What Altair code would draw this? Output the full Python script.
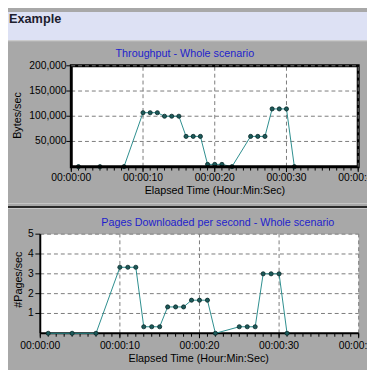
import altair as alt
import pandas as pd

# ---------------- data ----------------
top_t = [1, 4, 7.35, 10, 11, 12, 13, 14, 15, 16, 17, 18, 19, 20, 21, 22.4, 25, 26, 27, 28, 29, 30, 31.1]
top_v = [0, 0, 0, 107000, 107000, 107000, 100000, 100000, 100000, 60000, 60000, 60000,
         4500, 4500, 4500, 0, 60000, 60000, 60000, 114500, 114500, 114500, 0]

bot_t = [1, 4, 7, 10, 11, 12, 13, 14, 15, 16, 17, 18, 19, 20, 21, 22, 25, 26, 27, 28, 29, 30, 31]
bot_v = [0, 0, 0, 3.33, 3.33, 3.33, 0.33, 0.33, 0.33, 1.33, 1.33, 1.33,
         1.67, 1.67, 1.67, 0, 0.33, 0.33, 0.33, 3.0, 3.0, 3.0, 0]

x_ticks = [0, 10, 20, 30, 40]
x_tick_labels = ["00:00:00", "00:00:10", "00:00:20", "00:00:30", "00:00:40"]
x_minor = [0, 1, 2, 3, 4, 5, 6, 7, 8, 9, 10, 11, 12, 13, 14, 15, 16, 17, 18, 19, 20,
           21, 22, 23, 24, 25, 26, 27, 28, 29, 30, 31, 32, 33, 34, 35, 36, 37, 38, 39, 40]
x_grid = [10, 20, 30, 40]
top_y_ticks = [50000, 100000, 150000, 200000]
top_y_labels = ["50,000", "100,000", "150,000", "200,000"]
bot_y_ticks = [1, 2, 3, 4, 5]
bot_y_labels = ["1", "2", "3", "4", "5"]

x_domain = [0, 40]
top_y_domain = [0, 200000]
bot_y_domain = [0, 5]

header_title = "Example"
top_title = "Throughput - Whole scenario"
bot_title = "Pages Downloaded  per second - Whole scenario"
top_y_title = "Bytes/sec"
bot_y_title = "#Pages/sec"
x_title = "Elapsed Time (Hour:Min:Sec)"

# ---------------- layout helpers ----------------
W, H = 367, 362


def px(x):
    return round(x - 8, 2)


def py(y):
    return round(0.968 * y - 3.5, 2)


FONT = "Liberation Sans"
GREY = "#A8A8A8"
LAV = "#DDE1F4"
GRID = "#7A7A7A"
TEAL = "#2A8C8C"
BLUE = "#1F1FCC"

one = pd.DataFrame({"k": [0]})


def decor_rect(x1, x2, y1, y2, color):
    return alt.Chart(one).mark_rect(fill=color).encode(
        x=alt.value(x1), x2=alt.value(x2), y=alt.value(y1), y2=alt.value(y2))


def text(t, x, y, size=11, color="black", angle=0, align="center", weight="normal", baseline="middle"):
    return alt.Chart(one).mark_text(
        text=t, font=FONT, fontSize=size, color=color, angle=angle,
        align=align, fontWeight=weight, baseline=baseline
    ).encode(x=alt.value(x), y=alt.value(y))


def panel(ts, vs, sx, sy, ydom, yticks, ylabels, frame_width, axis_x_px, axis_y_px,
          xlab_y, ylab_x, ytick_len, thick):
    df = pd.DataFrame({"t": ts, "v": vs})
    xg = pd.DataFrame({"g": x_grid})
    yg = pd.DataFrame({"g": yticks})
    mn = pd.DataFrame({"m": x_minor})
    xl = pd.DataFrame({"v": x_ticks, "lab": x_tick_labels})
    yl = pd.DataFrame({"v": yticks, "lab": ylabels})

    XD0 = alt.XDatum(x_domain[0], type="quantitative", scale=sx, axis=None)
    YD0 = alt.YDatum(ydom[0], type="quantitative", scale=sy, axis=None)

    bg = alt.Chart(one).mark_rect(fill="white").encode(
        x=XD0, x2=alt.X2Datum(x_domain[1]), y=YD0, y2=alt.Y2Datum(ydom[1]))
    vgrid = alt.Chart(xg).mark_rule(color=GRID, strokeDash=[4, 3], strokeWidth=1).encode(
        x=alt.X("g:Q", scale=sx, axis=None), y=YD0, y2=alt.Y2Datum(ydom[1]))
    hgrid = alt.Chart(yg).mark_rule(color=GRID, strokeDash=[4, 3], strokeWidth=1).encode(
        y=alt.Y("g:Q", scale=sy, axis=None), x=XD0, x2=alt.X2Datum(x_domain[1]))
    minor = alt.Chart(mn).mark_rule(color="black", strokeWidth=1).encode(
        x=alt.X("m:Q", scale=sx, axis=None),
        y=alt.value(axis_y_px), y2=alt.value(axis_y_px + frame_width / 2 + 2.5))
    major = alt.Chart(xl).mark_rule(color="black", strokeWidth=1).encode(
        x=alt.X("v:Q", scale=sx, axis=None),
        y=alt.value(axis_y_px), y2=alt.value(axis_y_px + frame_width / 2 + 4))
    yt = alt.Chart(yl).mark_rule(color="black", strokeWidth=1).encode(
        y=alt.Y("v:Q", scale=sy, axis=None),
        x=alt.value(axis_x_px - ytick_len), x2=alt.value(axis_x_px))
    xlab = alt.Chart(xl).mark_text(font=FONT, fontSize=10.5, color="black",
                                   align="center", baseline="middle").encode(
        x=alt.X("v:Q", scale=sx, axis=None), y=alt.value(xlab_y), text="lab:N")
    ylab = alt.Chart(yl).mark_text(font=FONT, fontSize=10.5, color="black",
                                   align="right", baseline="middle").encode(
        y=alt.Y("v:Q", scale=sy, axis=None), x=alt.value(ylab_x), text="lab:N")
    line = alt.Chart(df).mark_line(color=TEAL, strokeWidth=1).encode(
        x=alt.X("t:Q", scale=sx, axis=None), y=alt.Y("v:Q", scale=sy, axis=None))
    pts = alt.Chart(df).mark_point(shape="circle", filled=True, size=18, fill="#1C5A5A",
                                   stroke="#062626", strokeWidth=0.8, opacity=1).encode(
        x=alt.X("t:Q", scale=sx, axis=None), y=alt.Y("v:Q", scale=sy, axis=None))
    if thick:
        frame = alt.Chart(one).mark_rect(fillOpacity=0, stroke="black", strokeWidth=frame_width).encode(
            x=XD0, x2=alt.X2Datum(x_domain[1]), y=YD0, y2=alt.Y2Datum(ydom[1]))
        edge_v = vgrid.transform_filter(f"datum.g == {x_domain[1]}")
        edge_h = hgrid.transform_filter(f"datum.g == {ydom[1]}")
        return alt.layer(bg, vgrid, hgrid, minor, major, yt, line, pts, frame, edge_v, edge_h, xlab, ylab)
    left = alt.Chart(one).mark_rule(color="black", strokeWidth=frame_width).encode(
        x=XD0, y=YD0, y2=alt.Y2Datum(ydom[1]))
    bottom = alt.Chart(one).mark_rule(color="black", strokeWidth=frame_width).encode(
        y=YD0, x=XD0, x2=alt.X2Datum(x_domain[1]))
    return alt.layer(bg, vgrid, hgrid, minor, major, yt, left, bottom, line, pts, xlab, ylab)


sx_top = alt.Scale(domain=x_domain, range=[px(72.7), px(366)], nice=False, zero=False)
sy_top = alt.Scale(domain=top_y_domain, range=[py(167), py(60.5)], nice=False, zero=False)
sx_bot = alt.Scale(domain=x_domain, range=[px(41), px(366.5)], nice=False, zero=False)
sy_bot = alt.Scale(domain=bot_y_domain, range=[py(343), py(238.3)], nice=False, zero=False)

top_panel = panel(top_t, top_v, sx_top, sy_top, top_y_domain, top_y_ticks, top_y_labels,
                  3, px(72.7), py(167), py(179.2), px(67.7), 5, True)
bot_panel = panel(bot_t, bot_v, sx_bot, sy_bot, bot_y_domain, bot_y_ticks, bot_y_labels,
                  2, px(41), py(343), py(356.7), px(34.3), 5, False)

decor = [
    decor_rect(0, W, 0, py(33.6), LAV),
    decor_rect(0, W, py(33.6), py(34.6), "#D2D2D2"),
    decor_rect(0, W, py(205.5), py(206.5), "#C4C4C4"),
    decor_rect(0, W, py(208.6), py(210.6), "#2A2A2A"),
    decor_rect(0, W, py(210.6), py(211.6), "#C8C8C8"),
]

texts = [
    text(header_title, 1, py(15), size=13, color="#20202E", align="left", weight="bold", baseline="alphabetic"),
    text(top_title, px(188.8), py(48.3), color=BLUE),
    text(bot_title, px(222.5), py(226.2), color=BLUE),
    text(top_y_title, px(18.5), py(113), angle=270),
    text(bot_y_title, px(19), py(286.3), angle=270),
    text(x_title, px(219.5), py(193), size=11),
    text(x_title, px(203), py(370.5), size=11),
]

chart = alt.layer(*decor, top_panel, bot_panel, *texts).resolve_scale(
    x="independent", y="independent"
).properties(
    width=W, height=H, padding=0, background=GREY,
    autosize=alt.AutoSizeParams(type="none"),
).configure_view(strokeWidth=0)

chart.save("out.html", embed_options={"renderer": "svg", "actions": False})
